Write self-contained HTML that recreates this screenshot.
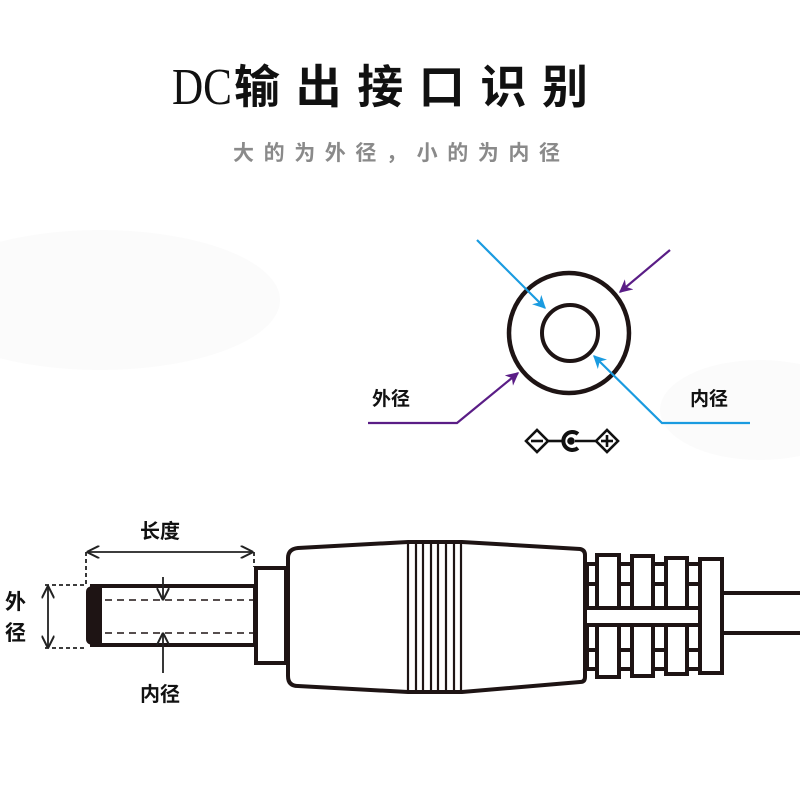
<!DOCTYPE html>
<html><head><meta charset="utf-8"><style>
html,body{margin:0;padding:0;background:#fff;}
svg{display:block}
</style></head><body>
<svg width="800" height="800" viewBox="0 0 800 800" xmlns="http://www.w3.org/2000/svg">
<defs>
<marker id="ab" viewBox="0 0 10 10" refX="9" refY="5" markerWidth="6" markerHeight="6" orient="auto-start-reverse"><path d="M0,0 L10,5 L0,10 L3,5z" fill="#1a9be0"/></marker>
<marker id="ap" viewBox="0 0 10 10" refX="9" refY="5" markerWidth="6" markerHeight="6" orient="auto-start-reverse"><path d="M0,0 L10,5 L0,10 L3,5z" fill="#5a1d86"/></marker>
<marker id="ak" viewBox="0 0 10 10" refX="9" refY="5" markerWidth="7" markerHeight="7" orient="auto-start-reverse"><path d="M0,0 L10,5 L0,10" fill="none" stroke="#222" stroke-width="1.6"/></marker>
</defs>
<rect width="800" height="800" fill="#fff"/>
<ellipse cx="100" cy="300" rx="180" ry="70" fill="#fbfbfb"/>
<ellipse cx="760" cy="410" rx="100" ry="50" fill="#fbfbfb"/>

<!-- title -->
<text x="172" y="104" font-family="Liberation Serif, serif" font-size="52" textLength="60" lengthAdjust="spacingAndGlyphs" fill="#111">DC</text>
<text x="234" y="103" font-family="Liberation Sans, 'Noto Sans CJK SC', sans-serif" font-size="46" font-weight="bold" textLength="354" lengthAdjust="spacing" fill="#111">输出接口识别</text>
<text x="233" y="160" font-family="Liberation Sans, 'Noto Sans CJK SC', sans-serif" font-size="21" font-weight="bold" textLength="327" lengthAdjust="spacing" fill="#8a8a8a">大的为外径，小的为内径</text>

<!-- circles -->
<circle cx="569" cy="333" r="60" fill="none" stroke="#1e1414" stroke-width="4.5"/>
<circle cx="570" cy="333" r="28" fill="none" stroke="#1e1414" stroke-width="4"/>
<line x1="477" y1="240" x2="545" y2="308" stroke="#1a9be0" stroke-width="2.2" marker-end="url(#ab)"/>
<polyline points="750,423 662,423 594,356" fill="none" stroke="#1a9be0" stroke-width="2.2" marker-end="url(#ab)"/>
<line x1="670" y1="250" x2="620" y2="292" stroke="#5a1d86" stroke-width="2.2" marker-end="url(#ap)"/>
<polyline points="368,423 457,423 518,373" fill="none" stroke="#5a1d86" stroke-width="2.2" marker-end="url(#ap)"/>
<text x="372" y="405" font-family="Liberation Sans, 'Noto Sans CJK SC', sans-serif" font-size="19" font-weight="bold" fill="#111">外径</text>
<text x="690" y="405" font-family="Liberation Sans, 'Noto Sans CJK SC', sans-serif" font-size="19" font-weight="bold" fill="#111">内径</text>
<!-- polarity symbol -->
<g stroke="#111" stroke-width="2.6" fill="none">
<path d="M526,441 L537,430 L548,441 L537,452z"/>
<line x1="531" y1="441" x2="543" y2="441"/>
<line x1="548" y1="441" x2="562" y2="441"/>
<path d="M578,434 A9,9 0 1 0 578,448" stroke-width="4"/>
<circle cx="571" cy="441" r="2.5" fill="#111"/>
<line x1="575" y1="441" x2="596" y2="441"/>
<path d="M596,441 L607,430 L618,441 L607,452z"/>
<line x1="601" y1="441" x2="613" y2="441"/>
<line x1="607" y1="435" x2="607" y2="447"/>
</g>

<!-- plug -->
<g stroke="#1e1414" fill="none">
<rect x="92" y="586" width="163" height="59" stroke-width="4"/>
<path d="M86,592 Q86,586 94,586 L102,586 L102,645 L94,645 Q86,645 86,639z" fill="#1e1414" stroke="none"/>
<line x1="105" y1="600" x2="254" y2="600" stroke-width="1.6" stroke-dasharray="7,5"/>
<line x1="105" y1="633" x2="254" y2="633" stroke-width="1.6" stroke-dasharray="7,5"/>
<rect x="256" y="568" width="30" height="95" stroke-width="4" fill="#fff"/>
<path d="M298,548 L408,542 L462,542 L580,549 Q585,550 585,555 L585,677 Q585,682 580,682 L462,692 L408,692 L298,686 Q288,686 288,676 L288,558 Q288,549 298,548z" stroke-width="4" fill="#fff"/>
<g stroke-width="2.2">
<line x1="408" y1="542" x2="408" y2="692"/><line x1="416" y1="542" x2="416" y2="692"/>
<line x1="423" y1="542" x2="423" y2="692"/><line x1="431" y1="542" x2="431" y2="692"/>
<line x1="438" y1="542" x2="438" y2="692"/><line x1="446" y1="542" x2="446" y2="692"/>
<line x1="454" y1="542" x2="454" y2="692"/><line x1="461" y1="542" x2="461" y2="692"/>
</g>
<!-- strain relief -->
<g stroke-width="4" fill="#fff">
<rect x="587" y="564" width="113" height="44"/>
<rect x="587" y="625" width="113" height="44"/>
<line x1="587" y1="584" x2="700" y2="584"/>
<line x1="587" y1="650" x2="700" y2="650"/>
<rect x="597" y="555" width="22" height="53"/>
<rect x="632" y="556" width="21" height="52"/>
<rect x="666" y="558" width="21" height="50"/>
<rect x="597" y="625" width="22" height="52"/>
<rect x="632" y="625" width="21" height="51"/>
<rect x="666" y="625" width="21" height="49"/>
<rect x="700" y="559" width="22" height="114"/>
</g>
<line x1="722" y1="593" x2="800" y2="593" stroke-width="4"/>
<line x1="722" y1="633" x2="800" y2="633" stroke-width="4"/>
</g>
<!-- dimensions -->
<g stroke="#222" fill="none" stroke-width="1.8">
<line x1="88" y1="552" x2="252" y2="552" marker-start="url(#ak)" marker-end="url(#ak)"/>
<line x1="86" y1="552" x2="86" y2="585" stroke-dasharray="4,3"/>
<line x1="254" y1="552" x2="254" y2="567" stroke-dasharray="4,3"/>
<line x1="48" y1="587" x2="48" y2="647" marker-start="url(#ak)" marker-end="url(#ak)"/>
<line x1="45" y1="585" x2="85" y2="585" stroke-dasharray="4,3"/>
<line x1="45" y1="648" x2="85" y2="648" stroke-dasharray="4,3"/>
<line x1="163" y1="577" x2="163" y2="599" marker-end="url(#ak)"/>
<line x1="163" y1="673" x2="163" y2="634" marker-end="url(#ak)"/>
</g>
<text x="140" y="538" font-family="Liberation Sans, 'Noto Sans CJK SC', sans-serif" font-size="20" font-weight="bold" fill="#111">长度</text>
<text x="140" y="701" font-family="Liberation Sans, 'Noto Sans CJK SC', sans-serif" font-size="20" font-weight="bold" fill="#111">内径</text>
<text x="5" y="609" font-family="Liberation Sans, 'Noto Sans CJK SC', sans-serif" font-size="21" font-weight="bold" fill="#111">外</text>
<text x="5" y="640" font-family="Liberation Sans, 'Noto Sans CJK SC', sans-serif" font-size="21" font-weight="bold" fill="#111">径</text>
</svg>
</body></html>
